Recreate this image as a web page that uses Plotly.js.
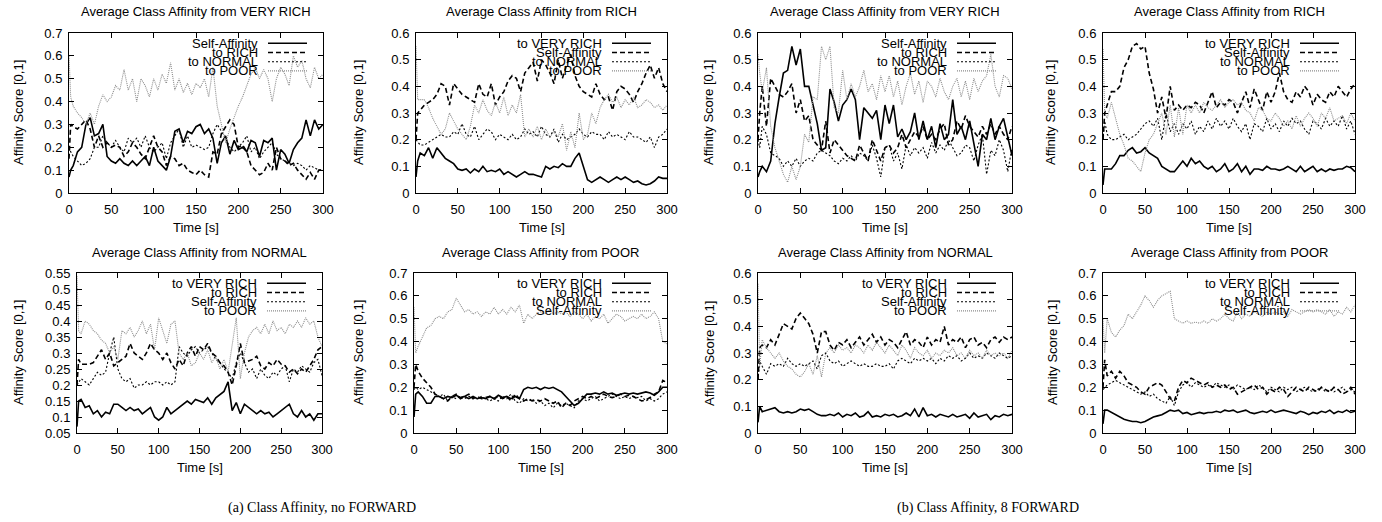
<!DOCTYPE html>
<html><head><meta charset="utf-8">
<script src="https://cdn.plot.ly/plotly-3.0.1.min.js"></script>
<style>html,body{margin:0;padding:0;background:#fff}#chart{width:1382px;height:522px}</style>
</head><body><div id="chart"></div>
<script>
// ---------------- DATA ----------------
const time = [0,2,5,10,15,20,25,30,35,40,45,
  50,55,60,65,70,75,80,85,90,95,100,
  105,110,115,120,125,130,135,140,145,150,155,
  160,165,170,175,180,185,190,195,200,205,210,
  215,220,225,230,235,240,245,250,255,260,265,
  270,275,280,285,290,295,300];
const xTickVals = [0,50,100,150,200,250,300];
const yTickVals05 = [0.05,0.1,0.15,0.2,0.25,0.3,0.35,0.4,0.45,0.5,0.55];
const yTickText05 = ["0.05","0.1","0.15","0.2","0.25","0.3","0.35","0.4","0.45","0.5","0.55"];

const panelTitles = [
  "Average Class Affinity from VERY RICH","Average Class Affinity from RICH",
  "Average Class Affinity from VERY RICH","Average Class Affinity from RICH",
  "Average Class Affinity from NORMAL","Average Class Affinity from POOR",
  "Average Class Affinity from NORMAL","Average Class Affinity from POOR"];
const legendLabels = [
  ["Self-Affinity","to RICH","to NORMAL","to POOR"],
  ["to VERY RICH","Self-Affinity","to NORMAL","to POOR"],
  ["Self-Affinity","to RICH","to NORMAL","to POOR"],
  ["to VERY RICH","Self-Affinity","to NORMAL","to POOR"],
  ["to VERY RICH","to RICH","Self-Affinity","to POOR"],
  ["to VERY RICH","to RICH","to NORMAL","Self-Affinity"],
  ["to VERY RICH","to RICH","Self-Affinity","to POOR"],
  ["to VERY RICH","to RICH","to NORMAL","Self-Affinity"]];
const xTitle = "Time [s]";
const yTitle = "Affinity Score [0,1]";
const captions = ["(a) Class Affinity, no FORWARD","(b) Class Affinity, 8 FORWARD"];

// Panel 1: VERY RICH, no FORWARD
const p1Self = [.07,.1,.12,.18,.2,.3,.33,.25,.26,.3,.16,
 .14,.13,.15,.13,.12,.14,.12,.14,.16,.12,.2,
 .14,.12,.1,.16,.27,.28,.22,.27,.26,.29,.3,
 .26,.28,.24,.13,.22,.25,.17,.23,.19,.2,.18,
 .23,.22,.16,.23,.22,.24,.1,.19,.17,.13,.19,
 .22,.24,.32,.25,.32,.28,.3];
const p1Rich = [.15,.3,.29,.28,.3,.32,.28,.2,.25,.2,.22,
 .2,.21,.2,.16,.18,.22,.2,.17,.15,.2,.25,
 .2,.18,.12,.16,.15,.12,.13,.1,.09,.08,.1,
 .08,.07,.18,.17,.26,.29,.32,.3,.2,.21,.18,
 .12,.1,.08,.09,.13,.1,.2,.15,.14,.12,.13,
 .1,.08,.06,.09,.06,.1,.1];
const p1Normal = [.2,.18,.16,.14,.12,.13,.15,.2,.2,.25,.22,
 .2,.23,.2,.18,.24,.22,.24,.2,.25,.2,.18,
 .2,.22,.15,.22,.25,.28,.2,.25,.2,.21,.2,
 .19,.2,.26,.3,.27,.24,.2,.18,.2,.22,.25,
 .18,.2,.15,.18,.2,.22,.17,.15,.14,.13,.12,
 .13,.12,.1,.12,.11,.1,.1];
const p1Poor = [.6,.42,.38,.35,.33,.3,.35,.3,.38,.43,.4,
 .42,.47,.45,.54,.45,.5,.4,.5,.47,.42,.5,
 .45,.52,.48,.57,.45,.5,.44,.48,.43,.48,.46,
 .5,.42,.55,.38,.3,.22,.28,.33,.38,.42,.47,
 .52,.55,.5,.54,.5,.4,.5,.55,.52,.47,.6,
 .55,.58,.5,.46,.55,.5,.52];

// Panel 2: RICH, no FORWARD
const p2VeryRich = [.06,.12,.15,.14,.17,.13,.17,.15,.13,.12,.11,
 .09,.085,.09,.075,.09,.08,.1,.08,.085,.08,.09,
 .07,.08,.07,.06,.07,.08,.07,.07,.065,.06,.1,
 .09,.1,.095,.11,.1,.1,.13,.15,.1,.05,.04,
 .05,.06,.05,.04,.05,.06,.05,.06,.05,.04,.045,
 .035,.03,.035,.045,.06,.055,.055];
const p2Self = [.2,.3,.31,.33,.34,.35,.37,.41,.4,.33,.41,
 .39,.37,.36,.35,.34,.41,.37,.36,.41,.33,.36,
 .38,.42,.44,.43,.38,.45,.47,.49,.42,.5,.48,
 .45,.41,.5,.43,.48,.52,.44,.4,.38,.37,.36,
 .41,.37,.35,.36,.31,.38,.4,.39,.37,.34,.38,
 .41,.45,.48,.43,.47,.41,.38];
const p2Normal = [.2,.19,.18,.18,.19,.2,.21,.22,.21,.21,.23,
 .22,.26,.22,.21,.25,.2,.22,.24,.23,.2,.22,
 .21,.2,.22,.2,.21,.24,.22,.23,.21,.25,.22,
 .21,.24,.19,.22,.2,.21,.22,.24,.22,.21,.23,
 .22,.22,.2,.23,.21,.22,.21,.2,.23,.21,.21,
 .2,.19,.21,.17,.21,.22,.24];
const p2Poor = [.55,.35,.35,.35,.32,.28,.25,.22,.24,.3,.27,
 .24,.22,.2,.25,.33,.3,.35,.31,.29,.34,.3,
 .36,.29,.33,.3,.37,.21,.24,.21,.25,.2,.24,
 .21,.23,.21,.26,.16,.23,.17,.3,.2,.22,.3,
 .26,.32,.35,.37,.34,.36,.32,.35,.33,.36,.32,
 .33,.35,.34,.32,.33,.31,.33];

// Panel 3: VERY RICH, 8 FORWARD
const p3Self = [.06,.08,.1,.08,.12,.26,.36,.45,.46,.55,.48,
 .54,.4,.4,.33,.26,.16,.17,.39,.34,.27,.33,
 .35,.39,.35,.2,.32,.3,.28,.31,.2,.33,.26,
 .33,.21,.24,.2,.23,.3,.2,.27,.2,.25,.17,
 .26,.2,.22,.35,.22,.25,.2,.27,.18,.1,.22,
 .2,.28,.2,.25,.28,.21,.14];
const p3Rich = [.2,.3,.4,.25,.43,.4,.37,.36,.38,.41,.3,
 .35,.27,.29,.2,.18,.16,.27,.15,.2,.18,.16,
 .14,.13,.12,.18,.15,.12,.2,.16,.12,.17,.18,
 .15,.17,.22,.17,.2,.23,.21,.25,.2,.22,.2,
 .24,.26,.18,.2,.27,.24,.29,.25,.23,.21,.25,
 .22,.26,.22,.25,.22,.2,.25];
const p3Normal = [.2,.17,.25,.22,.15,.14,.13,.1,.12,.1,.13,
 .1,.12,.13,.12,.15,.16,.15,.14,.12,.11,.13,
 .12,.14,.12,.15,.14,.12,.18,.13,.06,.17,.18,
 .12,.15,.09,.18,.14,.17,.15,.17,.13,.19,.15,
 .18,.16,.2,.17,.14,.15,.18,.17,.12,.18,.22,
 .07,.16,.14,.2,.16,.08,.17];
const p3Poor = [.52,.45,.38,.47,.25,.17,.12,.07,.04,.1,.05,
 .1,.22,.19,.36,.35,.55,.5,.55,.32,.3,.46,
 .35,.41,.36,.4,.46,.38,.41,.35,.44,.38,.44,
 .36,.42,.33,.4,.45,.37,.42,.34,.42,.4,.36,
 .43,.38,.35,.4,.43,.36,.42,.35,.43,.38,.42,
 .44,.52,.4,.36,.44,.43,.39];

// Panel 4: RICH, 8 FORWARD
const p4VeryRich = [.03,.09,.09,.09,.11,.14,.14,.16,.17,.15,.155,
 .17,.15,.14,.13,.1,.09,.08,.08,.1,.12,.1,
 .13,.11,.12,.1,.09,.1,.08,.09,.11,.08,.09,
 .11,.08,.1,.07,.09,.09,.085,.1,.09,.09,.085,
 .09,.1,.09,.08,.1,.08,.09,.1,.08,.09,.08,
 .09,.085,.09,.09,.1,.095,.08];
const p4Self = [.2,.3,.33,.38,.38,.4,.47,.5,.55,.56,.54,
 .55,.45,.39,.3,.36,.28,.4,.31,.33,.31,.33,
 .32,.34,.33,.3,.34,.38,.32,.34,.33,.35,.34,
 .3,.34,.38,.32,.39,.35,.31,.38,.34,.38,.45,
 .38,.35,.34,.38,.36,.4,.38,.33,.37,.35,.34,
 .38,.36,.4,.38,.36,.39,.41];
const p4Normal = [.2,.27,.22,.2,.2,.21,.22,.2,.21,.22,.24,
 .26,.27,.25,.28,.2,.3,.23,.26,.22,.26,.24,
 .27,.22,.25,.23,.27,.24,.28,.25,.27,.24,.28,
 .25,.23,.26,.2,.26,.25,.23,.28,.24,.26,.23,
 .27,.25,.28,.26,.27,.24,.22,.27,.26,.24,.28,
 .25,.27,.25,.29,.24,.27,.22];
const p4Poor = [.54,.3,.28,.34,.28,.22,.18,.13,.12,.1,.08,
 .15,.2,.22,.26,.3,.22,.33,.21,.32,.22,.33,
 .3,.33,.3,.34,.32,.31,.33,.35,.32,.34,.35,
 .33,.34,.31,.3,.27,.32,.31,.28,.27,.3,.28,
 .25,.27,.24,.29,.25,.28,.3,.28,.25,.3,.28,
 .32,.27,.28,.29,.26,.3,.27];

// Panel 5: NORMAL, no FORWARD
const p5VeryRich = [.07,.15,.155,.13,.135,.11,.12,.1,.115,.11,.14,
 .14,.13,.12,.13,.12,.125,.11,.12,.13,.1,.09,
 .1,.13,.11,.12,.13,.14,.15,.14,.155,.15,.145,
 .16,.14,.16,.17,.18,.21,.12,.145,.11,.14,.13,
 .12,.11,.12,.11,.115,.1,.11,.12,.13,.14,.11,
 .1,.12,.1,.11,.09,.11,.11];
const p5Rich = [.2,.28,.265,.265,.265,.27,.29,.31,.28,.3,.26,
 .27,.28,.29,.33,.3,.29,.28,.3,.33,.31,.3,
 .28,.3,.27,.25,.28,.26,.3,.32,.29,.32,.31,
 .33,.3,.29,.27,.26,.24,.2,.26,.33,.27,.275,
 .28,.29,.26,.25,.27,.26,.28,.265,.26,.24,.25,
 .235,.25,.24,.26,.28,.31,.32];
const p5Self = [.2,.21,.22,.21,.2,.22,.24,.23,.24,.3,.35,
 .25,.22,.21,.22,.19,.2,.2,.21,.2,.21,.21,
 .2,.21,.2,.21,.32,.3,.29,.31,.32,.3,.31,
 .32,.3,.28,.27,.25,.24,.22,.27,.3,.27,.24,
 .25,.22,.25,.23,.22,.24,.23,.25,.26,.21,.25,
 .24,.26,.25,.24,.27,.28,.23];
const p5Poor = [.54,.37,.36,.4,.39,.37,.36,.34,.33,.3,.32,
 .28,.37,.36,.38,.35,.37,.4,.36,.39,.31,.41,
 .37,.33,.39,.4,.3,.28,.3,.26,.27,.3,.28,
 .31,.27,.29,.25,.28,.24,.33,.41,.22,.3,.35,
 .37,.38,.36,.39,.36,.4,.37,.38,.36,.39,.38,
 .4,.38,.41,.39,.4,.35,.32];

// Panel 6: POOR, no FORWARD
const p6VeryRich = [.07,.17,.18,.16,.13,.13,.16,.16,.15,.16,.155,
 .165,.155,.16,.15,.16,.15,.155,.15,.16,.15,.165,
 .155,.16,.15,.16,.15,.19,.2,.195,.2,.19,.2,
 .195,.2,.19,.18,.16,.14,.12,.13,.15,.17,.17,
 .175,.17,.18,.17,.175,.165,.17,.175,.17,.175,.17,
 .175,.18,.175,.165,.18,.2,.2];
const p6Rich = [.2,.3,.27,.24,.22,.2,.17,.16,.15,.14,.16,
 .17,.15,.16,.17,.15,.16,.15,.155,.16,.15,.16,
 .15,.16,.14,.17,.15,.14,.15,.14,.145,.14,.15,
 .14,.13,.14,.11,.13,.12,.14,.15,.16,.15,.16,
 .15,.16,.17,.16,.155,.16,.17,.16,.165,.16,.15,
 .14,.145,.155,.17,.18,.23,.22];
const p6Normal = [.19,.2,.19,.2,.19,.18,.17,.16,.17,.14,.16,
 .15,.16,.15,.16,.155,.15,.16,.15,.14,.15,.14,
 .16,.15,.17,.14,.13,.15,.14,.15,.13,.14,.12,
 .13,.11,.13,.12,.13,.12,.11,.14,.15,.14,.15,
 .16,.14,.15,.16,.17,.16,.15,.16,.15,.16,.155,
 .16,.14,.15,.14,.15,.17,.18];
const p6Self = [.55,.35,.38,.42,.46,.47,.5,.51,.5,.53,.54,
 .59,.56,.53,.54,.52,.53,.51,.53,.52,.55,.52,
 .54,.52,.55,.53,.56,.48,.52,.5,.52,.53,.52,
 .54,.52,.53,.52,.53,.51,.53,.52,.5,.52,.49,
 .51,.5,.52,.48,.5,.52,.51,.49,.5,.51,.5,
 .52,.5,.51,.53,.5,.4,.39];

// Panel 7: NORMAL, 8 FORWARD
const p7VeryRich = [.04,.1,.08,.085,.09,.095,.08,.075,.08,.075,.08,
 .09,.085,.09,.08,.07,.065,.065,.07,.065,.075,.06,
 .07,.065,.075,.06,.065,.08,.06,.065,.06,.07,.065,
 .07,.06,.065,.075,.065,.09,.06,.095,.065,.07,.06,
 .07,.065,.06,.07,.06,.065,.07,.055,.075,.06,.065,
 .07,.05,.065,.06,.07,.065,.07];
const p7Rich = [.2,.32,.33,.32,.35,.33,.37,.41,.4,.39,.43,
 .45,.43,.41,.37,.3,.38,.38,.33,.31,.34,.33,
 .35,.32,.34,.36,.33,.35,.37,.34,.36,.33,.35,
 .34,.32,.35,.38,.33,.35,.34,.32,.36,.33,.35,
 .34,.4,.33,.35,.34,.36,.32,.35,.36,.33,.34,
 .32,.35,.36,.34,.36,.35,.36];
const p7Self = [.2,.27,.25,.22,.26,.25,.26,.25,.28,.26,.25,
 .26,.25,.26,.27,.24,.29,.3,.27,.26,.27,.25,
 .26,.27,.26,.25,.26,.25,.25,.26,.25,.25,.26,
 .24,.27,.28,.27,.26,.28,.27,.28,.27,.28,.26,
 .28,.27,.29,.28,.29,.27,.28,.3,.28,.29,.28,
 .3,.29,.28,.3,.29,.28,.29];
const p7Poor = [.56,.25,.35,.32,.3,.28,.3,.27,.25,.24,.22,
 .21,.23,.26,.22,.29,.21,.3,.32,.3,.33,.31,
 .32,.3,.33,.32,.3,.33,.31,.34,.32,.3,.33,
 .31,.29,.33,.31,.28,.32,.3,.29,.31,.28,.3,
 .29,.31,.3,.32,.29,.3,.28,.31,.29,.3,.28,
 .31,.29,.3,.29,.3,.28,.31];

// Panel 8: POOR, 8 FORWARD
const p8VeryRich = [.04,.1,.1,.09,.08,.07,.06,.055,.05,.05,.045,
 .05,.06,.07,.075,.08,.09,.1,.095,.1,.085,.09,
 .08,.085,.09,.085,.09,.09,.095,.09,.1,.095,.1,
 .09,.095,.1,.09,.085,.09,.095,.09,.1,.09,.095,
 .1,.095,.09,.085,.095,.09,.08,.09,.085,.095,.09,
 .1,.085,.095,.09,.1,.09,.095];
const p8Rich = [.2,.32,.25,.27,.24,.27,.25,.22,.21,.2,.18,
 .17,.2,.21,.22,.21,.18,.15,.14,.2,.23,.22,
 .24,.23,.22,.21,.22,.2,.21,.2,.21,.19,.2,
 .17,.18,.19,.2,.21,.19,.2,.17,.19,.18,.2,
 .19,.16,.18,.2,.19,.18,.2,.19,.18,.2,.19,
 .18,.2,.19,.17,.18,.2,.17];
const p8Normal = [.19,.2,.21,.22,.23,.22,.21,.2,.19,.18,.17,
 .18,.16,.17,.15,.14,.13,.16,.12,.18,.21,.22,
 .2,.22,.21,.2,.21,.2,.22,.21,.2,.21,.19,
 .21,.2,.19,.2,.19,.21,.2,.18,.2,.19,.18,
 .2,.19,.2,.18,.19,.2,.19,.18,.19,.2,.18,
 .19,.18,.19,.2,.18,.19,.18];
const p8Self = [.5,.35,.5,.44,.42,.45,.47,.52,.5,.53,.56,
 .6,.58,.55,.58,.6,.61,.62,.5,.49,.48,.49,
 .48,.485,.48,.49,.48,.5,.49,.5,.52,.5,.49,
 .53,.5,.52,.51,.53,.52,.51,.53,.52,.53,.52,
 .53,.51,.54,.53,.52,.53,.54,.53,.54,.53,.52,
 .54,.51,.53,.52,.55,.53,.56];

// ---------------- BUILD ----------------
const panelSeries = [
  [p1Self,p1Rich,p1Normal,p1Poor],
  [p2VeryRich,p2Self,p2Normal,p2Poor],
  [p3Self,p3Rich,p3Normal,p3Poor],
  [p4VeryRich,p4Self,p4Normal,p4Poor],
  [p5VeryRich,p5Rich,p5Self,p5Poor],
  [p6VeryRich,p6Rich,p6Normal,p6Self],
  [p7VeryRich,p7Rich,p7Self,p7Poor],
  [p8VeryRich,p8Rich,p8Normal,p8Self]];
const yRanges = [[0,0.7],[0,0.6],[0,0.6],[0,0.6],[0.05,0.55],[0,0.7],[0,0.6],[0,0.7]];

// layout geometry in pixels (plot boxes)
const W = 1382, H = 522;
const GEOM = [
  {l:69,  r:323,  t:33,  b:193, yt:18},
  {l:416, r:667,  t:33,  b:193, yt:358},
  {l:758, r:1012, t:33,  b:193, yt:708},
  {l:1103,r:1355, t:33,  b:193, yt:1050},
  {l:77,  r:322,  t:273, b:433, yt:18},
  {l:414, r:667,  t:273, b:433, yt:358},
  {l:758, r:1012, t:273, b:433, yt:709},
  {l:1103,r:1355, t:273, b:433, yt:1052}];
const px = v => v / W;
const py = v => 1 - v / H;
const FONT = "Liberation Sans, Arial, Helvetica, sans-serif";
const STYLES = [
  {color:'#000000', width:1.6, dash:'solid'},
  {color:'#000000', width:1.6, dash:'5px,3px'},
  {color:'#000000', width:1.1, dash:'2px,2px'},
  {color:'#8c8c8c', width:1.1, dash:'1px,1px'}];

const traces = [];
const layout = {
  width: W, height: H, margin:{l:0,r:0,t:0,b:0,pad:0},
  paper_bgcolor:'#ffffff', plot_bgcolor:'#ffffff', showlegend:false,
  font:{family:FONT, size:13, color:'#000'},
  annotations: [], shapes: []
};

GEOM.forEach((g, i) => {
  const n = i + 1;
  const xa = 'xaxis' + (n === 1 ? '' : n), ya = 'yaxis' + (n === 1 ? '' : n);
  const xr = 'x' + (n === 1 ? '' : n), yr = 'y' + (n === 1 ? '' : n);
  const common = {showgrid:false, zeroline:false, showline:true, linecolor:'#000', linewidth:1,
    mirror:'ticks', ticks:'inside', ticklen:5, tickcolor:'#000', tickwidth:1,
    tickfont:{family:FONT, size:13, color:'#000'}, fixedrange:true};
  layout[xa] = Object.assign({}, common, {domain:[px(g.l), px(g.r)], anchor:yr,
    range:[0,300], tickmode:'array', tickvals:xTickVals, ticklabelstandoff:4});
  const yAxis = Object.assign({}, common, {domain:[py(g.b), py(g.t)], anchor:xr,
    range:yRanges[i], ticklabelstandoff:3});
  if (i === 4) { yAxis.tickmode = 'array'; yAxis.tickvals = yTickVals05; yAxis.ticktext = yTickText05; }
  else { yAxis.tickmode = 'linear'; yAxis.tick0 = 0; yAxis.dtick = 0.1; }
  layout[ya] = yAxis;

  panelSeries[i].forEach((s, k) => {
    traces.push({type:'scatter', mode:'lines', x:time, y:s, xaxis:xr, yaxis:yr,
      line:Object.assign({}, STYLES[k]), hoverinfo:'skip', name:legendLabels[i][k]});
  });

  layout.annotations.push({text:panelTitles[i], xref:'paper', yref:'paper',
    x:px((g.l+g.r)/2), y:py(g.t-21), xanchor:'center', yanchor:'middle', showarrow:false,
    font:{family:FONT, size:13, color:'#000'}});
  layout.annotations.push({text:xTitle, xref:'paper', yref:'paper',
    x:px((g.l+g.r)/2), y:py(g.b+34), xanchor:'center', yanchor:'middle', showarrow:false,
    font:{family:FONT, size:13, color:'#000'}});
  layout.annotations.push({text:yTitle, xref:'paper', yref:'paper', textangle:-90,
    x:px(g.yt), y:py((g.t+g.b)/2), xanchor:'center', yanchor:'middle', showarrow:false,
    font:{family:FONT, size:13, color:'#000'}});
  legendLabels[i].forEach((lab, k) => {
    const yy = g.t + 10.3 + 9.2*k;
    layout.annotations.push({text:lab, xref:'paper', yref:'paper',
      x:px(g.r-63), y:py(yy), xanchor:'right', yanchor:'middle', showarrow:false,
      font:{family:FONT, size:13, color:'#000'}});
    layout.shapes.push({type:'line', xref:'paper', yref:'paper',
      x0:px(g.r-55), x1:px(g.r-16), y0:py(yy), y1:py(yy), line:Object.assign({}, STYLES[k])});
  });
});

layout.annotations.push({text:captions[0], xref:'paper', yref:'paper', x:px(322), y:py(508),
  xanchor:'center', yanchor:'middle', showarrow:false,
  font:{family:"Liberation Serif, Times New Roman, serif", size:14, color:'#000'}});
layout.annotations.push({text:captions[1], xref:'paper', yref:'paper', x:px(988), y:py(508),
  xanchor:'center', yanchor:'middle', showarrow:false,
  font:{family:"Liberation Serif, Times New Roman, serif", size:14, color:'#000'}});

Plotly.newPlot('chart', traces, layout, {staticPlot:true, displayModeBar:false});
</script>
</body></html>
